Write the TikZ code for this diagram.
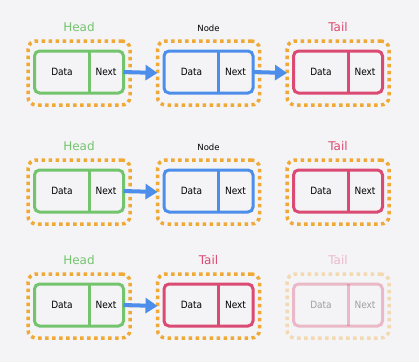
\documentclass[tikz,border=0pt]{standalone}
\usepackage{fontspec}
\setmainfont{DejaVu Sans}
\newfontfamily\cellafont{DejaVu Sans Condensed}
\usetikzlibrary{arrows.meta,positioning}

\definecolor{sfondo}{HTML}{F4F4F6}
\definecolor{verde}{HTML}{74C46E}
\definecolor{blu}{HTML}{4C8EEA}
\definecolor{rosso}{HTML}{DA4A72}
\definecolor{arancio}{HTML}{F0A935}

\begin{document}
\begin{tikzpicture}[x=1pt, y=-1pt,
    contorno/.style={draw=arancio, line width=3.5pt, dash pattern=on 3.5pt off 3.5pt,
      rounded corners=8pt, minimum width=102pt, minimum height=64pt, outer sep=0pt},
    riquadro/.style={draw=#1, line width=3pt, rounded corners=5pt,
      minimum width=89pt, minimum height=42pt, outer sep=0pt},
    cella/.style={font=\cellafont\fontsize{10}{12}\selectfont, inner sep=0pt},
    titolo/.style={font=\fontsize{12}{14}\selectfont, text=#1, anchor=base},
    freccia/.style={draw=blu, line width=4pt, -{Triangle[length=12pt,width=15pt]}}]

  \fill[sfondo] (0,0) rectangle (419,362);

  \foreach \nm/\x/\y/\col/\op in {h1/79/72/verde/1, n1/208.5/72/blu/1, t1/338/72/rosso/1,
      h2/79/191/verde/1, n2/208.5/191/blu/1, t2/338/191/rosso/1,
      h3/79/305/verde/1, t3/208.5/305/rosso/1, v3/338/305/rosso/.35}
  {
    \begin{scope}[opacity=\op]
      \node[contorno] (o\nm) at (\x,\y+1) {};
      \node[riquadro=\col] (\nm) at (\x,\y) {};
      \draw[\col, line width=3pt] ([xshift=10pt]\nm.north) -- ([xshift=10pt]\nm.south);
      \node[cella] (d\nm) at ([xshift=-17pt]\nm.center) {Data};
      \node[cella] (x\nm) at ([xshift=27pt]\nm.center) {Next};
    \end{scope}
  }

  \node[titolo=verde] (lh1) at ([yshift=9.5pt]oh1.north) {Head};
  \node[titolo=black, font=\fontsize{8.5}{10}\selectfont] (ln1) at ([yshift=9.5pt]on1.north) {Node};
  \node[titolo=rosso] (lt1) at ([yshift=9.5pt]ot1.north) {Tail};

  \node[titolo=verde] (lh2) at ([yshift=9.5pt]oh2.north) {Head};
  \node[titolo=black, font=\fontsize{8.5}{10}\selectfont] (ln2) at ([yshift=9.5pt]on2.north) {Node};
  \node[titolo=rosso] (lt2) at ([yshift=9.5pt]ot2.north) {Tail};

  \node[titolo=verde] (lh3) at ([yshift=9.5pt]oh3.north) {Head};
  \node[titolo=rosso] (lt3) at ([yshift=9.5pt]ot3.north) {Tail};
  \node[titolo=rosso, opacity=.35] (lv3) at ([yshift=9.5pt]ov3.north) {Tail};

  \draw[freccia] (h1.east) -- (on1.west);
  \draw[freccia] (n1.east) -- (ot1.west);
  \draw[freccia] (h2.east) -- (on2.west);
  \draw[freccia] (h3.east) -- (ot3.west);
\end{tikzpicture}
\end{document}
